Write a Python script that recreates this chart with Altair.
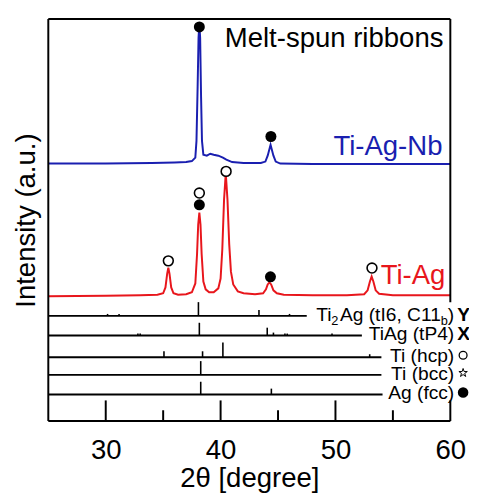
import altair as alt
import pandas as pd

# ---------------- data ----------------
# Ti-Ag-Nb (blue) pattern, arbitrary intensity units
nb_x = [25, 30, 34, 36, 37.0, 37.5, 37.8, 37.9, 38.0, 38.08, 38.15, 38.22, 38.3, 38.38,
        38.5, 38.8, 39.1, 39.4, 39.8, 40.2, 40.5, 41.0, 42.0, 43.5, 43.9, 44.1, 44.35,
        44.6, 44.8, 45.2, 48, 52, 56, 60]
nb_y = [262, 262, 262.5, 263, 263.5, 264.5, 268, 285, 340, 390, 404, 390, 330, 285,
        271, 270, 272, 271, 270, 268, 266, 263.5, 262.5, 262.5, 264, 270, 281,
        270, 264, 262, 261.5, 261.5, 261.5, 261.5]

# Ti-Ag (red) pattern
ag_x = [25, 30, 33, 34.5, 35.0, 35.2, 35.35, 35.45, 35.55, 35.7, 35.9, 36.3, 37.0, 37.5,
        37.8, 37.95, 38.05, 38.15, 38.25, 38.35, 38.5, 38.7, 39.0, 39.4, 39.8, 40.0,
        40.15, 40.3, 40.45, 40.6, 40.75, 40.9, 41.1, 41.5, 42.0, 43.0, 43.7, 43.95,
        44.1, 44.25, 44.4, 44.6, 44.9, 45.5, 48, 51, 52.5, 52.8, 53.0, 53.15, 53.3,
        53.5, 53.8, 55, 60]
ag_y = [127, 127.5, 128, 128.5, 130, 136, 150, 156, 150, 136, 130, 128.5, 129, 131,
        140, 170, 200, 212, 200, 170, 142, 134, 131, 131, 135, 145,
        175, 225, 252, 225, 180, 152, 139, 132, 130, 129, 130, 134,
        139, 141, 139, 133, 130, 128.5, 128, 128, 129, 133, 142, 147, 142,
        133, 129.5, 128, 128]

# reference stick patterns
ref_names = ["TiAg (tP4)", "Ti (hcp)", "Ti (bcc)", "Ag (fcc)"]
ref_offset_ti2ag = 107
ref_offsets = [87, 65, 47, 27]
ref_line_end_ti2ag = 47.5
ref_line_end = [52.3, 54.0, 54.0, 54.1]

ti2ag_pos = [30.16, 31.16, 38.07, 43.34, 46.0]
ti2ag_int = [2, 2, 14, 6, 2]
tiag_pos = [32.8, 33.0, 38.15, 44.06, 44.6, 45.6, 45.8, 49.7]
tiag_int = [2, 2, 13, 8, 3, 2, 2, 2]
tihcp_pos = [35.07, 38.43, 40.2, 52.98]
tihcp_int = [6, 6, 15, 3]
tibcc_pos = [38.27]
tibcc_int = [14]
agfcc_pos = [38.27, 44.42]
agfcc_int = [13, 6]

# phase markers on the peaks
fcc_mark_x = [38.15, 44.38, 38.15, 44.34]
fcc_mark_y = [401, 289.5, 220, 146.7]
hcp_mark_x = [35.45, 38.15, 40.48, 53.18]
hcp_mark_y = [163, 232, 254, 155.7]

major_ticks = [30, 40, 50, 60]
minor_ticks = [35, 45, 55]

# ---------------- build tables ----------------
curves = pd.DataFrame(
    {"x": nb_x + ag_x,
     "y": nb_y + ag_y,
     "s": ["Ti-Ag-Nb"] * len(nb_x) + ["Ti-Ag"] * len(ag_x)})

all_offsets = [ref_offset_ti2ag] + ref_offsets
all_ends = [ref_line_end_ti2ag] + ref_line_end
baselines = pd.DataFrame({"x": [25] * 5, "x2": all_ends, "y": all_offsets})

stick_rows = []
for off, pos, inten in zip(all_offsets,
                           [ti2ag_pos, tiag_pos, tihcp_pos, tibcc_pos, agfcc_pos],
                           [ti2ag_int, tiag_int, tihcp_int, tibcc_int, agfcc_int]):
    for p, h in zip(pos, inten):
        stick_rows.append({"x": p, "y": off, "y2": off + h})
sticks = pd.DataFrame(stick_rows)

FONT = "Liberation Sans"
BLUE = "#1a1fb0"
RED = "#e8161c"

xs = alt.Scale(domain=[25, 60], nice=False, zero=False)
ys = alt.Scale(domain=[0, 409], nice=False, zero=False)
xaxis = alt.Axis(values=major_ticks, ticks=False, domain=False, grid=False,
                 labelFontSize=28, labelFont=FONT, labelColor="black",
                 labelPadding=16, labelFlush=False,
                 title="2θ [degree]", titleFont=FONT, titleFontSize=28,
                 titleFontWeight="normal", titleColor="black",
                 titleBaseline="alphabetic", titleY=67)
yaxis = alt.Axis(labels=False, ticks=False, domain=False, grid=False,
                 title="Intensity (a.u.)", titleFont=FONT, titleFontSize=28,
                 titleFontWeight="normal", titleColor="black", titlePadding=8)

X = alt.X("x:Q", scale=xs, axis=xaxis)
Y = alt.Y("y:Q", scale=ys, axis=yaxis)

lines = alt.Chart(curves).mark_line(strokeWidth=2).encode(
    x=X, y=Y,
    color=alt.Color("s:N", scale=alt.Scale(domain=["Ti-Ag-Nb", "Ti-Ag"], range=[BLUE, RED]),
                    legend=None),
    detail="s:N")

base_rules = alt.Chart(baselines).mark_rule(color="black", strokeWidth=2).encode(
    x=X, x2="x2:Q", y=Y)
stick_rules = alt.Chart(sticks).mark_rule(color="black", strokeWidth=1.6).encode(
    x=X, y=Y, y2="y2:Q")

fcc_pts = alt.Chart(pd.DataFrame({"x": fcc_mark_x, "y": fcc_mark_y})).mark_point(
    shape="circle", filled=True, color="black", size=125, opacity=1).encode(x=X, y=Y)
hcp_pts = alt.Chart(pd.DataFrame({"x": hcp_mark_x, "y": hcp_mark_y})).mark_point(
    shape="circle", filled=False, stroke="black", fill="white", fillOpacity=1,
    strokeWidth=1.6, size=100, opacity=1).encode(x=X, y=Y)

# ticks drawn inward
tick_df = pd.DataFrame({"x": major_ticks + minor_ticks,
                        "y": [0] * 7,
                        "y2": [21] * 4 + [11] * 3})
ticks = alt.Chart(tick_df).mark_rule(color="black", strokeWidth=2).encode(
    x=X, y=Y, y2="y2:Q")

# frame
frame_v = pd.DataFrame({"x": [25, 60], "y": [0, 121], "y2": [409, 409]})
frame_h = pd.DataFrame({"x": [25, 25], "x2": [60, 60], "y": [0, 409]})
fv = alt.Chart(frame_v).mark_rule(color="black", strokeWidth=2).encode(x=X, y=Y, y2="y2:Q")
fh = alt.Chart(frame_h).mark_rule(color="black", strokeWidth=2).encode(x=X, x2="x2:Q", y=Y)

def txt(df, **kw):
    return alt.Chart(df).mark_text(font=FONT, **kw).encode(x=X, y=Y, text="t:N")

title_txt = txt(pd.DataFrame({"x": [60], "y": [381], "t": ["Melt-spun ribbons"]}),
                align="right", baseline="alphabetic", fontSize=28, dx=-7, color="black")
nb_txt = txt(pd.DataFrame({"x": [60], "y": [270.5], "t": ["Ti-Ag-Nb"]}),
             align="right", baseline="alphabetic", fontSize=28, dx=-8, color=BLUE)
ag_txt = txt(pd.DataFrame({"x": [60], "y": [139], "t": ["Ti-Ag"]}),
             align="right", baseline="alphabetic", fontSize=28, dx=-5, color=RED)

ref_txt = txt(pd.DataFrame({"x": [60] * 4, "y": ref_offsets, "t": ref_names}),
              align="right", baseline="alphabetic", fontSize=19.5, dx=4, dy=5,
              color="black")
# Ti2Ag (tI6, C11b) built from pieces for the subscripts
p_close = txt(pd.DataFrame({"x": [60], "y": [ref_offset_ti2ag], "t": [")"]}),
              align="right", baseline="alphabetic", fontSize=19.5, dx=4, dy=5, color="black")
p_b = txt(pd.DataFrame({"x": [60], "y": [ref_offset_ti2ag], "t": ["b"]}),
          align="right", baseline="alphabetic", fontSize=13, dx=-2.5, dy=9, color="black")
p_mid = txt(pd.DataFrame({"x": [60], "y": [ref_offset_ti2ag], "t": ["Ag (tI6, C11"]}),
            align="right", baseline="alphabetic", fontSize=19.5, dx=-9.7, dy=5, color="black")
p_2 = txt(pd.DataFrame({"x": [60], "y": [ref_offset_ti2ag], "t": ["2"]}),
          align="right", baseline="alphabetic", fontSize=13, dx=-113.8, dy=9, color="black")
p_ti = txt(pd.DataFrame({"x": [60], "y": [ref_offset_ti2ag], "t": ["Ti"]}),
           align="right", baseline="alphabetic", fontSize=19.5, dx=-121.0, dy=5, color="black")

sym_txt = txt(pd.DataFrame({"x": [60, 60], "y": [ref_offset_ti2ag, ref_offsets[0]],
                            "t": ["Y", "X"]}),
              align="center", baseline="alphabetic", fontSize=19.5, fontWeight="bold",
              dx=13.5, dy=5, color="black")
sym_hcp = alt.Chart(pd.DataFrame({"x": [60], "y": [ref_offsets[1]]})).mark_point(
    shape="circle", filled=False, stroke="black", strokeWidth=1.3, size=64,
    xOffset=13, yOffset=-2, opacity=1).encode(x=X, y=Y)
STAR = ("M0,-1L0.2245,-0.309L0.951,-0.309L0.363,0.118L0.588,0.809L0,0.382L-0.588,0.809"
        "L-0.363,0.118L-0.951,-0.309L-0.2245,-0.309Z")
sym_bcc = alt.Chart(pd.DataFrame({"x": [60], "y": [ref_offsets[2]]})).mark_point(
    shape=STAR, filled=False, stroke="black", strokeWidth=1, size=81,
    xOffset=13, yOffset=-2, opacity=1).encode(x=X, y=Y)
sym_fcc = alt.Chart(pd.DataFrame({"x": [60], "y": [ref_offsets[3]]})).mark_point(
    shape="circle", filled=True, color="black", size=115,
    xOffset=13, yOffset=-2, opacity=1).encode(x=X, y=Y)

chart = alt.layer(
    lines, base_rules, stick_rules, ticks, fv, fh, fcc_pts, hcp_pts,
    title_txt, nb_txt, ag_txt, ref_txt, p_close, p_b, p_mid, p_2, p_ti,
    sym_txt, sym_hcp, sym_bcc, sym_fcc
).properties(
    width=409, height=409,
    padding={"left": 41, "top": 7, "right": 19, "bottom": 72},
    autosize="none",
    background="white",
).configure_view(stroke=None)

chart.save("out.html", embed_options={"renderer": "svg", "actions": False})
